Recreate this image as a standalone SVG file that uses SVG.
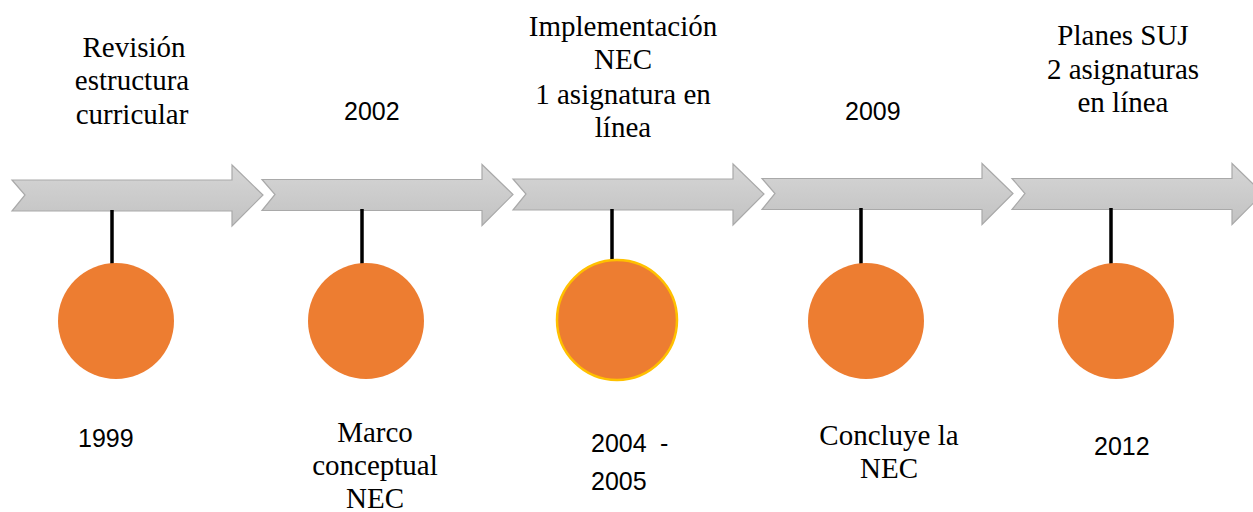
<svg xmlns="http://www.w3.org/2000/svg" width="1253" height="512" viewBox="0 0 1253 512">
<defs>
<linearGradient id="g" x1="0" y1="0" x2="0" y2="1">
<stop offset="0" stop-color="#d6d6d6"/>
<stop offset="1" stop-color="#c2c2c2"/>
</linearGradient>
<path id="arr" d="M0,-15 H220 V-30 L251,0 L220,31 V16 H0 L13,0 Z"/>
</defs>
<style>
.a{fill:url(#g);stroke:#a9a9a9;stroke-width:1.2}
.st{stroke:#000;stroke-width:3.5}
.c{fill:#ED7D31}
.s{font-family:"Liberation Serif","Times New Roman",serif;font-size:29px;fill:#000;text-anchor:middle}
.n{font-family:"Liberation Sans",Arial,sans-serif;font-size:25px;fill:#000}
</style>
<g id="timeline">
<use href="#arr" class="a" x="12" y="195"/>
<use href="#arr" class="a" x="262" y="194.5"/>
<use href="#arr" class="a" x="513" y="194"/>
<use href="#arr" class="a" x="762" y="193.5"/>
<use href="#arr" class="a" x="1012" y="193.5"/>
</g>
<g id="connectors">
<line class="st" x1="112" y1="210" x2="112" y2="265"/>
<line class="st" x1="362" y1="209" x2="362" y2="265"/>
<line class="st" x1="612" y1="209" x2="612" y2="261"/>
<line class="st" x1="861" y1="208" x2="861" y2="265"/>
<line class="st" x1="1111" y1="208" x2="1111" y2="265"/>
</g>
<g id="n1">
<circle class="c" cx="116" cy="321" r="58"/>
<text class="s" x="134" y="57">Revisión</text>
<text class="s" x="132" y="90">estructura</text>
<text class="s" x="132" y="124">curricular</text>
<text class="n" x="78" y="447">1999</text>
</g>
<g id="n2">
<circle class="c" cx="366" cy="321" r="58"/>
<text class="n" x="344" y="120">2002</text>
<text class="s" x="375" y="442">Marco</text>
<text class="s" x="375" y="475">conceptual</text>
<text class="s" x="375" y="508">NEC</text>
</g>
<g id="n3">
<circle class="c" cx="617" cy="320" r="60" stroke="#FFC000" stroke-width="2.5"/>
<text class="s" x="623" y="36">Implementación</text>
<text class="s" x="623" y="69">NEC</text>
<text class="s" x="623" y="104">1 asignatura en</text>
<text class="s" x="623" y="137">línea</text>
<text class="n" x="591" y="452">2004</text>
<text class="n" x="660" y="452">-</text>
<text class="n" x="591" y="490">2005</text>
</g>
<g id="n4">
<circle class="c" cx="866" cy="321" r="58"/>
<text class="n" x="845" y="120">2009</text>
<text class="s" x="889" y="445">Concluye la</text>
<text class="s" x="889" y="478">NEC</text>
</g>
<g id="n5">
<circle class="c" cx="1116" cy="321" r="58"/>
<text class="s" x="1123" y="45">Planes SUJ</text>
<text class="s" x="1123" y="79">2 asignaturas</text>
<text class="s" x="1123" y="112">en línea</text>
<text class="n" x="1094" y="455">2012</text>
</g>
</svg>
